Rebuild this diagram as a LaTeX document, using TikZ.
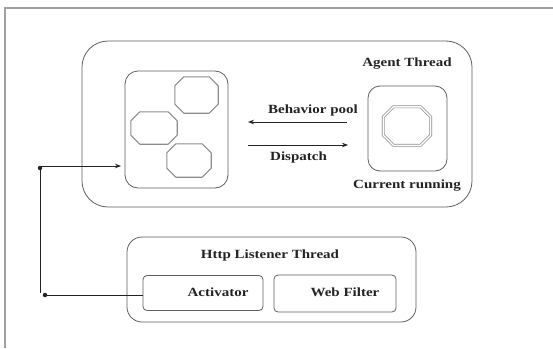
\documentclass[tikz,border=0pt]{standalone}
\usepackage{fontspec}
\setmainfont[FakeStretch=1.2]{Liberation Serif}
\usetikzlibrary{arrows.meta}
\definecolor{frameline}{RGB}{160,160,160}
\definecolor{boxline}{RGB}{95,95,95}
\definecolor{octline}{RGB}{140,140,140}
\definecolor{ink}{RGB}{35,35,35}
\tikzset{
  rbox/.style={draw=boxline, line width=0.8pt, rounded corners=#1, inner sep=0pt},
  octslot/.style={inner sep=0pt},
  octedge/.style={draw=octline, line width=1.1pt, line join=round},
  octdouble/.style={draw=octline, line width=0.7pt, double=white, double distance=1.4pt},
  lbl/.style={font=\bfseries\fontsize{12.5}{14}\selectfont, text=ink, inner sep=0pt},
  flow/.style={draw=ink, line width=0.9pt, -{Stealth[length=6pt,width=4.5pt]}},
  wire/.style={draw=ink, line width=0.9pt},
  joint/.style={circle, fill=ink, inner sep=0pt, minimum size=4.5pt},
}
% outline of an octagon inscribed in node #1, corners cut by #2
\newcommand{\octoutline}[3]{%
  \draw[#3] ([xshift=#2]#1.north west) -- ([xshift=-#2]#1.north east)
    -- ([yshift=-#2]#1.north east) -- ([yshift=#2]#1.south east)
    -- ([xshift=-#2]#1.south east) -- ([xshift=#2]#1.south west)
    -- ([yshift=#2]#1.south west) -- ([yshift=-#2]#1.north west) -- cycle;}
\begin{document}
\begin{tikzpicture}[x=1pt,y=-1pt]
  \useasboundingbox (0,0) rectangle (553,348);
  \fill[white] (0,0) rectangle (553,348);
  % page frame
  \draw[frameline, line width=2pt] (5,348) -- (5,8) -- (553,8);

  % agent thread
  \node[rbox=26pt, minimum width=390pt, minimum height=166pt] (agent) at (277,124) {};
  \node[lbl] (agentlbl) at (407,64) {Agent Thread};
  \node[rbox=13pt, minimum width=103pt, minimum height=117pt] (pool) at (176.5,129.5) {};
  \node[octslot, minimum width=43pt, minimum height=36pt] (b1) at (196.5,95) {};
  \node[octslot, minimum width=46pt, minimum height=32pt] (b2) at (154,128) {};
  \node[octslot, minimum width=44pt, minimum height=33pt] (b3) at (189,160.5) {};
  \octoutline{b1}{9pt}{octedge}
  \octoutline{b2}{9pt}{octedge}
  \octoutline{b3}{9pt}{octedge}

  \node[rbox=12pt, minimum width=79pt, minimum height=85pt] (run) at (407.5,128.5) {};
  \node[octslot, minimum width=47pt, minimum height=38pt] (cur) at (407,126) {};
  \octoutline{cur}{10pt}{octdouble}
  \node[lbl] (curlbl) at (407,186) {Current running};

  % pool <-> running behaviour
  \coordinate (bpR) at (347,122);
  \coordinate (bpL) at (248,122);
  \coordinate (dpL) at (248,145);
  \coordinate (dpR) at (348,145);
  \draw[flow] (bpR) -- (bpL);
  \draw[flow] (dpL) -- (dpR);
  \node[lbl] (bplbl) at (313,110) {Behavior pool};
  \node[lbl, anchor=west] (dplbl) at (270,157) {Dispatch};

  % http listener thread
  \node[rbox=15pt, minimum width=289pt, minimum height=85pt] (http) at (271.5,279.5) {};
  \node[lbl] (httplbl) at (270,255) {Http Listener Thread};
  \node[rbox=4pt, minimum width=120pt, minimum height=35pt] (act) at (203,293) {};
  \node[lbl] (actlbl) at (218,292) {Activator};
  \node[rbox=4pt, minimum width=122pt, minimum height=37pt] (web) at (335,293.5) {};
  \node[lbl] (weblbl) at (345,292) {Web Filter};

  % activation path back into the pool
  \coordinate (cb) at (45,295);
  \coordinate (cv) at (40,293);
  \coordinate (ct) at (40,166);
  \coordinate (pin) at (125,166);
  \draw[wire] (act.west |- cb) -- (cb);
  \draw[flow, shorten >=4pt] (cv) -- (ct) -- (pin);
  \node[joint] (jb) at (cb) {};
  \node[joint] (jt) at ([yshift=-2pt]ct) {};
\end{tikzpicture}
\end{document}
